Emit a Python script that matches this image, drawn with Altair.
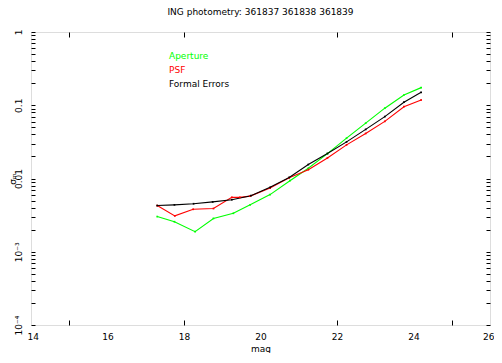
import altair as alt
import pandas as pd

# ---- data ----
mag_ap = [17.3, 17.75, 18.29, 18.77, 19.29, 19.73, 20.25, 20.77, 21.25, 21.75, 22.25, 22.75, 23.25, 23.75, 24.2]
sig_ap = [0.00302, 0.00257, 0.00188, 0.00285, 0.00335, 0.00437, 0.00603, 0.00933, 0.0138, 0.0219, 0.0355, 0.0569, 0.0912, 0.138, 0.174]

mag_psf = [17.3, 17.76, 18.24, 18.77, 19.25, 19.46, 19.73, 20.25, 20.75, 21.25, 21.75, 22.25, 22.75, 23.25, 23.75, 24.2]
sig_psf = [0.00427, 0.00309, 0.0038, 0.00389, 0.00553, 0.00553, 0.00575, 0.00741, 0.01023, 0.0132, 0.0191, 0.0288, 0.0412, 0.0603, 0.0955, 0.118]

mag_fe = [17.3, 17.75, 18.25, 18.75, 19.25, 19.75, 20.25, 20.75, 21.25, 21.75, 22.25, 22.75, 23.25, 23.75, 24.2]
sig_fe = [0.00427, 0.00437, 0.00452, 0.00479, 0.00513, 0.00582, 0.00759, 0.01035, 0.0155, 0.0219, 0.0316, 0.0468, 0.070, 0.110, 0.150]

series_names = ["Aperture", "PSF", "Formal Errors"]
series_colors = ["#00ff00", "#ff0000", "#000000"]

x_label_values = [14, 16, 18, 20, 22, 24, 26]
x_tick_values = [15, 18, 22, 25]
y_label_values = [1, 0.1, 0.01, 0.001, 0.0001]
y_label_texts = ["1", "0.1", "0.01", "10⁻³", "10⁻⁴"]
y_tick_values = [m * 10 ** e for e in range(-4, 0) for m in range(1, 10)] + [1]

title_text = "ING photometry: 361837 361838 361839"

rows = []
for order, (name, ms, ss) in enumerate(zip(series_names, [mag_ap, mag_psf, mag_fe], [sig_ap, sig_psf, sig_fe])):
    for m, s in zip(ms, ss):
        rows.append({"mag": m, "sigma": s, "series": name, "order": order})
df = pd.DataFrame(rows)

FONT = "DejaVu Sans"
label_expr = " : ".join(
    f"datum.value == {v} ? '{t}'" for v, t in zip(y_label_values[:-1], y_label_texts[:-1])
) + f" : '{y_label_texts[-1]}'"
legend_color_expr = " : ".join(
    f"datum.label == '{n}' ? '{c}'" for n, c in zip(series_names[:-1], series_colors[:-1])
) + f" : '{series_colors[-1]}'"

PLOT_W, PLOT_H = 459, 293

xscale = alt.Scale(domain=[14, 26], nice=False, zero=False)
yscale = alt.Scale(type="log", domain=[1e-4, 1], nice=False)
cscale = alt.Scale(domain=series_names, range=series_colors)

lines = alt.Chart(df).mark_line(strokeWidth=1.1, point=alt.OverlayMarkDef(shape="square", size=3, filled=True)).encode(
    x=alt.X("mag:Q", scale=xscale, title="mag",
            axis=alt.Axis(orient="bottom", values=x_label_values, format="d", domain=False, ticks=False,
                          grid=False, labelPadding=7, labelFont=FONT, labelFontSize=9, labelColor="black",
                          titleFont=FONT, titleFontSize=9, titleFontWeight="normal", titlePadding=3,
                          titleColor="black", labelFlush=True, labelFlushOffset=4)),
    y=alt.Y("sigma:Q", scale=yscale, title="σₘ",
            axis=alt.Axis(orient="left", values=y_label_values, labelExpr=label_expr, domain=False, ticks=False,
                          grid=False, labelAngle=270, labelAlign="center", labelBaseline="bottom",
                          labelPadding=8, labelFont=FONT, labelFontSize=9, labelColor="black",
                          labelFlush=False, labelOverlap=False,
                          titleFont=FONT, titleFontSize=9, titleFontWeight="normal", titleColor="black",
                          titleAngle=270, titleAlign="center", titleBaseline="middle",
                          titleX=-19, titleY=PLOT_H / 2)),
    color=alt.Color("series:N", scale=cscale, sort=series_names,
                    legend=alt.Legend(orient="none", legendX=129, legendY=19, title=None,
                                      symbolSize=0, symbolOpacity=0, symbolStrokeWidth=0,
                                      labelFont=FONT, labelFontSize=9, rowPadding=4,
                                      labelOffset=0, symbolOffset=0,
                                      labelColor=alt.ExprRef(expr=legend_color_expr))),
    detail="series:N",
    order="order:Q",
)

ticks_a = alt.Chart(df).mark_point(opacity=0).encode(
    x=alt.X("mag:Q", scale=xscale, title=None,
            axis=alt.Axis(orient="bottom", values=x_tick_values, labels=False, domain=False, grid=False,
                          ticks=True, tickSize=5, offset=-5, tickColor="black", title=None)),
    y=alt.Y("sigma:Q", scale=yscale, title=None,
            axis=alt.Axis(orient="left", values=y_tick_values, labels=False, domain=False, grid=False,
                          ticks=True, tickSize=4, offset=-4, tickColor="black", title=None)),
)

ticks_b = alt.Chart(df).mark_point(opacity=0).encode(
    x=alt.X("mag:Q", scale=xscale, title=None,
            axis=alt.Axis(orient="top", values=x_tick_values, labels=False, domain=False, grid=False,
                          ticks=True, tickSize=5, offset=-5, tickColor="black", title=None)),
    y=alt.Y("sigma:Q", scale=yscale, title=None,
            axis=alt.Axis(orient="right", values=y_tick_values, labels=False, domain=False, grid=False,
                          ticks=True, tickSize=4, offset=-4, tickColor="black", title=None)),
)

chart = alt.layer(lines, ticks_a, ticks_b).resolve_axis(x="independent", y="independent").properties(
    width=PLOT_W, height=PLOT_H,
    autosize=alt.AutoSizeParams(type="none"),
    padding={"left": 23, "top": 24, "right": 4, "bottom": 28},
    title=alt.Title(title_text, font=FONT, fontSize=9, fontWeight="normal", color="black",
                    anchor="middle", offset=12, frame="group"),
).configure_view(stroke="black", strokeWidth=1).configure(background="white")

chart.save("out.html", embed_options={"renderer": "svg", "actions": False})
